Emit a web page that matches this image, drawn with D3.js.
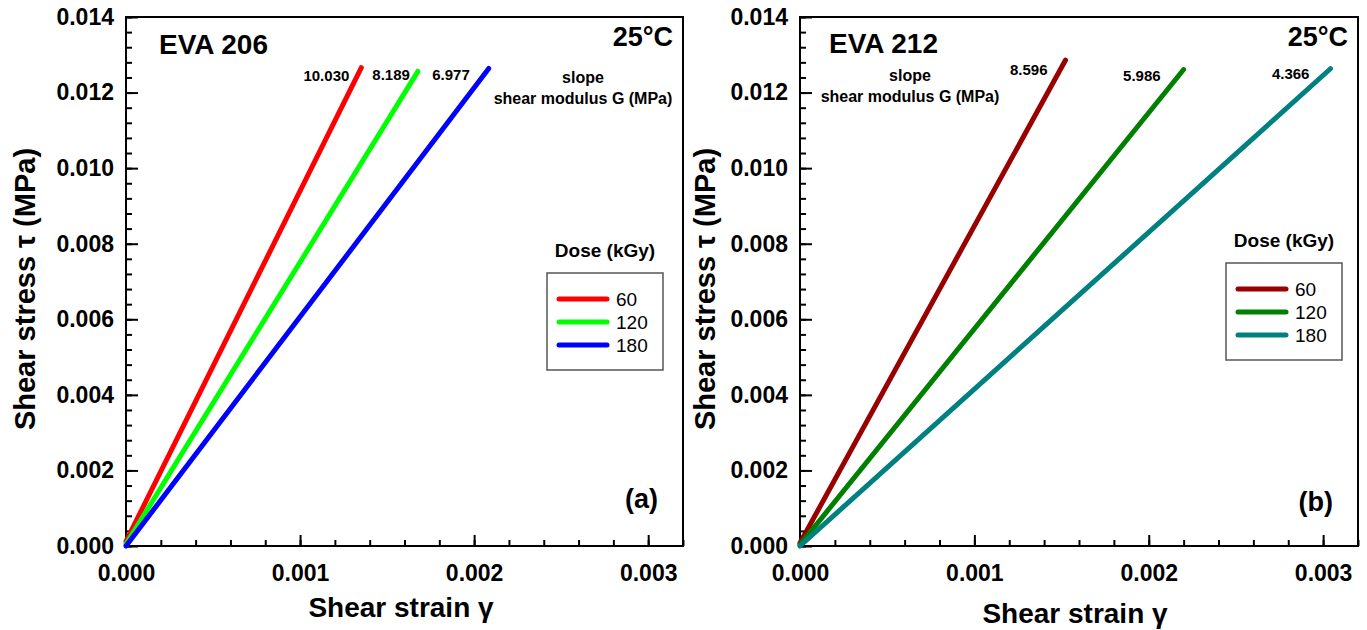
<!DOCTYPE html>
<html>
<head>
<meta charset="utf-8">
<script src="https://cdn.jsdelivr.net/npm/d3@7"></script>
<style>
  body { margin: 0; background: #fff; }
  text { font-family: "Liberation Sans", Arial, sans-serif; }
</style>
</head>
<body>
<svg id="chart" width="1367" height="630"></svg>
<script>
// data
var doses = ['60', '120', '180'];
var xTicks = [0, 0.001, 0.002, 0.003];
var yTicks = [0, 0.002, 0.004, 0.006, 0.008, 0.010, 0.012, 0.014];

// panel a, EVA 206 : start / end of each fitted line
var strainA = [[0, 0.001352], [0, 0.001677], [0, 0.002084]];
var stressA = [[0.00012, 0.01266], [0.00005, 0.01256], [0, 0.01264]];
var slopesA = ['10.030', '8.189', '6.977'];

// panel b, EVA 212
var strainB = [[0, 0.001523], [0, 0.00220], [0, 0.003042]];
var stressB = [[0.00008, 0.01286], [0.00003, 0.01261], [0, 0.01263]];
var slopesB = ['8.596', '5.986', '4.366'];

var colorsA = ['#ff0000', '#00ff00', '#0000ff'];
var colorsB = ['#990000', '#008000', '#008080'];

var svg = d3.select('#chart');

function drawPanel(p){
    var g = svg.append('g').attr('transform', 'translate(' + p.left + ',' + p.top + ')');
    var width = p.width, height = p.height;

    var xScale = d3.scaleLinear().domain([0, 0.0032]).range([0, width]);
    var yScale = d3.scaleLinear().domain([0, 0.014]).range([height, 0]);

    // minor ticks
    g.append('g')
        .attr('transform', 'translate(0,' + height + ')')
        .call(d3.axisBottom(xScale).tickValues(d3.range(0, 0.00321, 0.0002)).tickSizeInner(-6).tickSizeOuter(0).tickFormat(''))
        .call(function(a){ a.select('.domain').remove(); });
    g.append('g')
        .call(d3.axisLeft(yScale).tickValues(d3.range(0, 0.01401, 0.0004)).tickSizeInner(-6).tickSizeOuter(0).tickFormat(''))
        .call(function(a){ a.select('.domain').remove(); });

    // major ticks
    var xAxis = g.append('g')
        .attr('transform', 'translate(0,' + height + ')')
        .call(d3.axisBottom(xScale).tickValues(xTicks).tickSizeInner(-11).tickSizeOuter(0).tickPadding(19).tickFormat(d3.format('.3f')));
    xAxis.select('.domain').remove();
    var yAxis = g.append('g')
        .call(d3.axisLeft(yScale).tickValues(yTicks).tickSizeInner(-12).tickSizeOuter(0).tickPadding(12).tickFormat(d3.format('.3f')));
    yAxis.select('.domain').remove();

    g.selectAll('.tick line').attr('stroke', '#000').attr('stroke-width', 2);
    g.selectAll('.tick text')
        .attr('font-size', 23).attr('font-weight', 'bold').attr('fill', '#000')
        .attr('font-family', '"Liberation Sans", Arial, sans-serif');

    // frame
    g.append('rect')
        .attr('width', width).attr('height', height)
        .attr('fill', 'none').attr('stroke', '#000').attr('stroke-width', 2);

    // fitted lines
    p.strain.forEach(function(xs, i){
        var pts = xs.map(function(x, j){ return [x, p.stress[i][j]]; });
        g.append('path')
            .datum(pts)
            .attr('d', d3.line().x(function(d){ return xScale(d[0]); }).y(function(d){ return yScale(d[1]); }))
            .attr('stroke', p.colors[i]).attr('stroke-width', 5)
            .attr('stroke-linecap', 'round').attr('fill', 'none');

        // slope value near the top end
        g.append('text')
            .attr('x', xScale(xs[1]) + p.labelShift[i][0])
            .attr('y', yScale(p.stress[i][1]) + p.labelShift[i][1])
            .attr('text-anchor', 'end')
            .attr('font-size', 15).attr('font-weight', 'bold')
            .text(p.slopes[i]);
    });

    // texts
    g.append('text').attr('x', p.name[0]).attr('y', p.name[1])
        .attr('font-size', 28).attr('font-weight', 'bold').text(p.title);
    g.append('text').attr('x', width - 10).attr('y', 29)
        .attr('text-anchor', 'end').attr('font-size', 27).attr('font-weight', 'bold').text('25°C');
    g.append('text').attr('x', p.slopeNote[0]).attr('y', p.slopeNote[1])
        .attr('text-anchor', 'middle').attr('font-size', 16).attr('font-weight', 'bold').text('slope');
    g.append('text').attr('x', p.slopeNote[0]).attr('y', p.slopeNote[1] + 21)
        .attr('text-anchor', 'middle').attr('font-size', 16).attr('font-weight', 'bold').text('shear modulus G (MPa)');
    g.append('text').attr('x', width - 25).attr('y', p.tag[1])
        .attr('text-anchor', 'end').attr('font-size', 27).attr('font-weight', 'bold').text(p.tagText);

    // axis titles
    g.append('text').attr('x', p.xTitle[0]).attr('y', p.xTitle[1])
        .attr('text-anchor', 'middle').attr('font-size', 28).attr('font-weight', 'bold').text('Shear strain γ');
    g.append('text')
        .attr('transform', 'translate(' + p.yTitleX + ',272) rotate(-90)')
        .attr('text-anchor', 'middle').attr('font-size', 29).attr('font-weight', 'bold').text('Shear stress τ (MPa)');

    // legend
    var lg = g.append('g').attr('transform', 'translate(' + p.legend[0] + ',' + p.legend[1] + ')');
    lg.append('text').attr('x', 58).attr('y', -16)
        .attr('text-anchor', 'middle').attr('font-size', 19).attr('font-weight', 'bold').text('Dose (kGy)');
    lg.append('rect').attr('width', 116).attr('height', 97)
        .attr('fill', 'none').attr('stroke', '#555').attr('stroke-width', 1.5);
    doses.forEach(function(d, i){
        var yy = 26 + i * 23;
        lg.append('line').attr('x1', 12).attr('x2', 60).attr('y1', yy).attr('y2', yy)
            .attr('stroke', p.colors[i]).attr('stroke-width', 5).attr('stroke-linecap', 'round');
        lg.append('text').attr('x', 69).attr('y', yy + 7).attr('font-size', 19).text(d);
    });
}

drawPanel({
    left: 126, top: 17, width: 557, height: 529,
    strain: strainA, stress: stressA, slopes: slopesA, colors: colorsA,
    labelShift: [[-12, 13], [-8, 9], [-19, 12]],
    title: 'EVA 206', name: [33, 37], slopeNote: [457, 66],
    tag: [0, 491], tagText: '(a)',
    xTitle: [275, 600], yTitleX: -91,
    legend: [421, 256]
});

drawPanel({
    left: 800, top: 17, width: 558, height: 529,
    strain: strainB, stress: stressB, slopes: slopesB, colors: colorsB,
    labelShift: [[-18, 15], [-23, 11], [-21, 10]],
    title: 'EVA 212', name: [29, 36], slopeNote: [110, 64],
    tag: [0, 494], tagText: '(b)',
    xTitle: [275, 606], yTitleX: -85,
    legend: [426, 246]
});
</script>
</body>
</html>
